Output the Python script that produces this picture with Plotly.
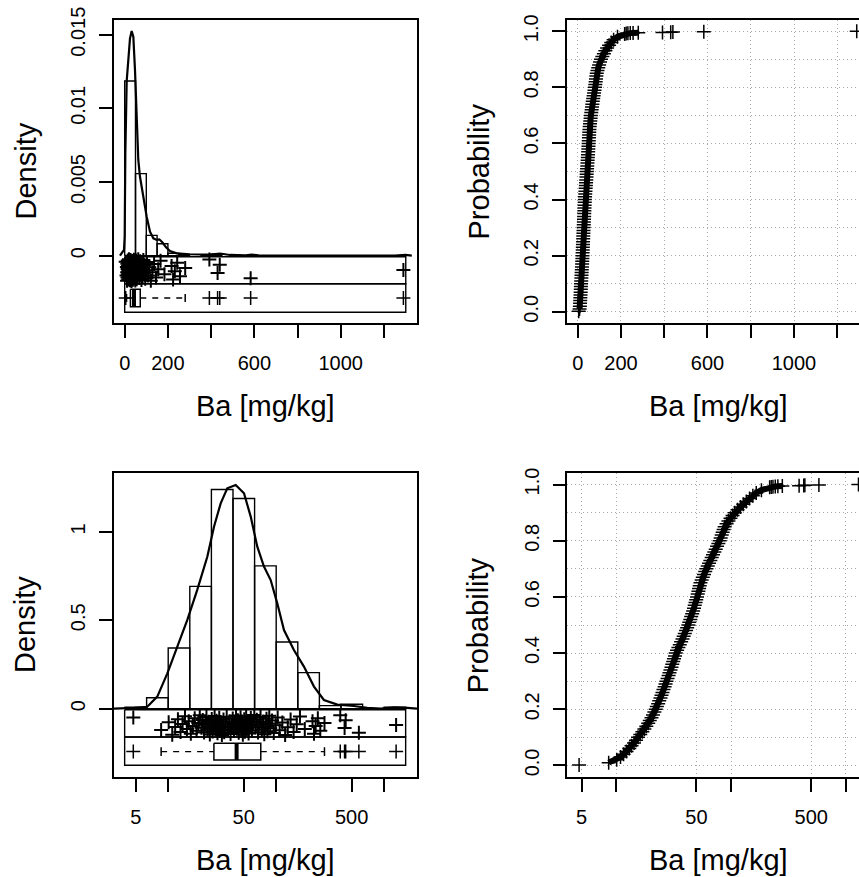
import plotly.graph_objects as go

W, H = 859, 877
FONT = "Liberation Sans, Arial, Helvetica, sans-serif"

# ---------------- data ----------------
# ECDF: cumulative probability and Ba value [mg/kg] (sorted sample quantiles)
ecdf_prob = [0.0017, 0.01, 0.02, 0.03, 0.04, 0.05, 0.06, 0.07, 0.08, 0.09,
             0.10, 0.11, 0.12, 0.13, 0.14, 0.15, 0.16, 0.17, 0.18, 0.19,
             0.20, 0.21, 0.22, 0.23, 0.24, 0.25, 0.26, 0.27, 0.28, 0.29,
             0.30, 0.31, 0.32, 0.33, 0.34, 0.35, 0.36, 0.37, 0.38, 0.39,
             0.40, 0.41, 0.42, 0.43, 0.44, 0.45, 0.46, 0.47, 0.48, 0.49,
             0.50, 0.51, 0.52, 0.53, 0.54, 0.55, 0.56, 0.57, 0.58, 0.59,
             0.60, 0.61, 0.62, 0.63, 0.64, 0.65, 0.66, 0.67, 0.68, 0.69,
             0.70, 0.71, 0.72, 0.73, 0.74, 0.75, 0.76, 0.77, 0.78, 0.79,
             0.80, 0.81, 0.82, 0.83, 0.84, 0.85, 0.86, 0.87, 0.88, 0.89,
             0.90, 0.91, 0.92, 0.93, 0.94, 0.95, 0.96, 0.97, 0.98, 0.99,
             0.9916, 0.9925, 0.9933, 0.9941, 0.995, 0.9958, 0.9966, 0.9975, 0.9983, 1.0]
ba_values = [4.75, 8.6, 10.1, 10.9, 11.6, 12.3, 13.0, 13.6, 14.3, 14.9,
             15.5, 16.2, 16.9, 17.6, 18.3, 19.0, 19.6, 20.3, 20.9, 21.5,
             22.1, 22.6, 23.2, 23.7, 24.3, 24.8, 25.3, 25.8, 26.4, 26.9,
             27.4, 28.0, 28.6, 29.1, 29.7, 30.3, 30.8, 31.4, 31.9, 32.5,
             33.0, 33.9, 34.8, 35.8, 36.8, 37.8, 38.7, 39.6, 40.6, 41.5,
             42.5, 43.3, 44.2, 45.0, 45.9, 46.8, 47.6, 48.3, 49.1, 49.8,
             50.6, 51.3, 52.0, 52.7, 53.4, 54.2, 55.5, 56.8, 58.2, 59.6,
             61.1, 62.7, 64.4, 66.1, 67.9, 69.7, 71.6, 73.6, 75.6, 77.6,
             79.7, 81.3, 83.0, 84.6, 86.3, 88.1, 91.5, 95.0, 99.0, 103.2,
             107.6, 114, 121, 128, 136, 145, 155, 166, 184, 217,
             224, 232, 243, 256, 280, 392, 430, 440, 583, 1290]

# Boxplot statistics [mg/kg]
box_whisker_low = 8.6
box_q1 = 26.5
box_median = 43.0
box_q3 = 72.0
box_whisker_high = 280.0

# Histogram, linear scale (bin width 50 mg/kg)
lin_bin_left = [0, 50, 100, 150, 200, 250, 350, 400, 550, 1250]
lin_bin_density = [0.01186, 0.00557, 0.00138, 0.00081, 0.00017, 0.00007,
                   0.00003, 0.00010, 0.00003, 0.00003]
lin_bin_width = 50

# Histogram, log scale (edges in log10 units, density per log10 unit)
log_bin_edges = [0.6, 0.8, 1.0, 1.2, 1.4, 1.6, 1.8, 2.0, 2.2, 2.4, 2.6, 2.8, 3.0, 3.2]
log_bin_density = [0.0084, 0.062, 0.343, 0.692, 1.240, 1.189, 0.808, 0.377,
                   0.204, 0.017, 0.025, 0.0, 0.0084]

# Kernel density, linear scale
lin_dens_x = [-22, -3.2, 0, 3, 9.3, 18.5, 24.5, 32.3, 40, 47.7, 55.4, 63, 70.8,
              86, 101.8, 117.2, 132.7, 148, 160.5, 176, 191.4, 209.7, 240.5,
              302, 395, 441, 487, 560, 588, 620, 800, 1000, 1250, 1300, 1329]
lin_dens_y = [0, 0.00039, 0.0013, 0.00695, 0.01186, 0.01374, 0.01475, 0.01525,
              0.01487, 0.0126, 0.0092, 0.0065, 0.00536, 0.0040, 0.00265, 0.00163,
              0.00118, 0.00107, 0.00111, 0.00088, 0.00057, 0.00032, 0.00016,
              0.0001, 0.00008, 0.00015, 0.00005, 0.00003, 0.00008, 0.00002,
              0.0, 0.0, 0.00001, 0.00005, 0.0]

# Kernel density of log10(Ba)
log_dens_x = [0.498, 0.683, 0.806, 0.899, 0.992, 1.084, 1.177, 1.269, 1.362,
              1.424, 1.486, 1.547, 1.625, 1.702, 1.764, 1.825, 1.887, 1.949,
              2.010, 2.072, 2.164, 2.257, 2.350, 2.442, 2.566, 2.720, 2.843,
              2.967, 3.091, 3.214, 3.304]
log_dens_y = [0.0, 0.004, 0.011, 0.068, 0.200, 0.351, 0.502, 0.672, 0.860,
              1.030, 1.162, 1.247, 1.266, 1.219, 1.087, 0.917, 0.804, 0.728,
              0.596, 0.445, 0.332, 0.238, 0.125, 0.049, 0.023, 0.015, 0.004,
              0.0, 0.0075, 0.004, 0.0]

lin_ticks = [0, 200, 400, 600, 800, 1000, 1200]
lin_ticktext = ["0", "200", "", "600", "", "1000", ""]
log_ticks = [5, 10, 50, 100, 500, 1000]
log_ticktext = ["5", "", "50", "", "500", ""]

XLAB = "Ba [mg/kg]"

# ---------------- layout geometry (pixels) ----------------
def fx(px):
    return px / W

def fy(py):
    return 1 - py / H

PANELS = {
    "TL": dict(x0=114, x1=417, y0=20, y1=323),
    "TR": dict(x0=567, x1=859, y0=20, y1=323),
    "BL": dict(x0=114, x1=417, y0=473.3, y1=776.7),
    "BR": dict(x0=567.3, x1=859, y0=473.3, y1=776.7),
}

fig = go.Figure()
BLACK = "black"
PLUS = dict(symbol="cross-thin", size=10, line=dict(width=1.5, color=BLACK), color=BLACK)
PLUS_J = dict(symbol="cross-thin", size=10, line=dict(width=2.0, color=BLACK), color=BLACK)


def rect_path(xs0, xs1, ys0, ys1):
    X, Y = [], []
    for a, b, c, d in zip(xs0, xs1, ys0, ys1):
        X += [a, b, b, a, a, None]
        Y += [c, c, d, d, c, None]
    return X, Y


def add_line(x, y, xa, ya, width=1.5, dash=None):
    fig.add_trace(go.Scatter(x=x, y=y, mode="lines", xaxis=xa, yaxis=ya,
                             line=dict(color=BLACK, width=width, dash=dash),
                             hoverinfo="skip", showlegend=False))


def jitter_frac(n):
    return [((i * 0.6180339887) + 0.13) % 1.0 for i in range(n)]


def add_eda(xa, ya, strip_x, strip_y, jit_y, box_y, cap_h):
    # strips (two rectangles)
    X, Y = rect_path([strip_x[0]] * 2, [strip_x[1]] * 2,
                     [strip_y[0], strip_y[1]], [strip_y[1], strip_y[2]])
    add_line(X, Y, xa, ya, width=1.4)
    # jittered points
    fr = jitter_frac(len(ba_values))
    jy = [jit_y[0] + f * (jit_y[1] - jit_y[0]) for f in fr]
    fig.add_trace(go.Scatter(x=ba_values, y=jy, mode="markers", xaxis=xa, yaxis=ya,
                             marker=PLUS_J, hoverinfo="skip", showlegend=False))
    # boxplot
    yc = (box_y[0] + box_y[1]) / 2
    X, Y = rect_path([box_q1], [box_q3], [box_y[0]], [box_y[1]])
    add_line(X, Y, xa, ya, width=1.5)
    add_line([box_median, box_median], [box_y[0], box_y[1]], xa, ya, width=4)
    add_line([box_whisker_low, box_q1, None, box_q3, box_whisker_high],
             [yc, yc, None, yc, yc], xa, ya, width=1.4, dash="6px,6px")
    add_line([box_whisker_low, box_whisker_low, None, box_whisker_high, box_whisker_high],
             [yc - cap_h, yc + cap_h, None, yc - cap_h, yc + cap_h], xa, ya, width=1.5)
    outl = [v for v in ba_values if v < box_whisker_low or v > box_whisker_high]
    fig.add_trace(go.Scatter(x=outl, y=[yc] * len(outl), mode="markers", xaxis=xa, yaxis=ya,
                             marker=PLUS, hoverinfo="skip", showlegend=False))


def add_ecdf(xa, ya):
    # dense band formed by the overlapping "+" symbols
    fig.add_trace(go.Scatter(x=ba_values[1:-5], y=ecdf_prob[1:-5], mode="lines",
                             xaxis=xa, yaxis=ya, line=dict(color=BLACK, width=6),
                             hoverinfo="skip", showlegend=False))
    fig.add_trace(go.Scatter(x=ba_values, y=ecdf_prob, mode="markers", xaxis=xa, yaxis=ya,
                             marker=PLUS, hoverinfo="skip", showlegend=False))


# ---------- Top-left: histogram + density + strips (linear) ----------
X, Y = rect_path(lin_bin_left, [b + lin_bin_width for b in lin_bin_left],
                 [0] * len(lin_bin_left), lin_bin_density)
add_line(X, Y, "x", "y", width=1.4)
add_line(lin_dens_x, lin_dens_y, "x", "y", width=2.2)
add_eda("x", "y", strip_x=[0, 1301], strip_y=[-0.00007, -0.0019, -0.00384],
        jit_y=[-0.00022, -0.00172], box_y=[-0.00228, -0.00346], cap_h=0.00027)

# ---------- Top-right: ECDF (linear) ----------
add_ecdf("x2", "y2")

# ---------- Bottom-left: histogram + density + strips (log) ----------
lo = [10 ** e for e in log_bin_edges[:-1]]
hi = [10 ** e for e in log_bin_edges[1:]]
X, Y = rect_path(lo, hi, [0] * len(lo), log_bin_density)
add_line(X, Y, "x3", "y3", width=1.4)
add_line([10 ** v for v in log_dens_x], log_dens_y, "x3", "y3", width=2.2)
add_eda("x3", "y3", strip_x=[3.95, 1581], strip_y=[-0.0057, -0.160, -0.320],
        jit_y=[-0.035, -0.150], box_y=[-0.196, -0.290], cap_h=0.025)

# ---------- Bottom-right: ECDF (log) ----------
add_ecdf("x4", "y4")

# ---------------- axes ----------------
tickfont = dict(family=FONT, size=20, color=BLACK)
common = dict(showline=True, linecolor=BLACK, linewidth=1.6, ticks="outside",
              ticklen=13, tickwidth=1.6, tickcolor=BLACK, zeroline=False,
              tickfont=tickfont, showgrid=False, automargin=False)
GRID = dict(showgrid=True, gridcolor="#a8a8a8", gridwidth=1, griddash="1px,3px")
MINOR = dict(dtick=0.1, tick0=0, showgrid=True, gridcolor="#a8a8a8", gridwidth=1,
             griddash="1px,3px", ticks="")


def dom(p):
    return [fx(p["x0"]), fx(p["x1"])], [fy(p["y1"]), fy(p["y0"])]


d = {k: dom(v) for k, v in PANELS.items()}

fig.update_layout(
    template="none",
    xaxis=dict(common, domain=d["TL"][0], anchor="y", range=[-49.5, 1353],
               tickvals=lin_ticks, ticktext=lin_ticktext, mirror=True, ticklabelstandoff=8),
    yaxis=dict(common, domain=d["TL"][1], anchor="x", range=[-0.004568, 0.016],
               tickvals=[0, 0.005, 0.01, 0.015], ticktext=["0", "0.005", "0.01", "0.015"],
               tickangle=-90, mirror=True, ticklabelstandoff=6),
    xaxis2=dict(common, **GRID, domain=d["TR"][0], anchor="y2", range=[-49.5, 1300.5],
                tickvals=lin_ticks, ticktext=lin_ticktext, mirror=True, ticklabelstandoff=8),
    yaxis2=dict(common, **GRID, domain=d["TR"][1], anchor="x2", range=[-0.04, 1.04],
                tickvals=[0, 0.2, 0.4, 0.6, 0.8, 1.0],
                ticktext=["0.0", "0.2", "0.4", "0.6", "0.8", "1.0"],
                minor=MINOR, tickangle=-90, mirror=False, ticklabelstandoff=6),
    xaxis3=dict(common, domain=d["BL"][0], anchor="y3", type="log", range=[0.498, 3.304],
                tickvals=log_ticks, ticktext=log_ticktext, mirror=True, ticklabelstandoff=8),
    yaxis3=dict(common, domain=d["BL"][1], anchor="x3", range=[-0.385, 1.332],
                tickvals=[0, 0.5, 1], ticktext=["0", "0.5", "1"],
                tickangle=-90, mirror=True, ticklabelstandoff=6),
    xaxis4=dict(common, **GRID, domain=d["BR"][0], anchor="y4", type="log", range=[0.574, 3.115],
                tickvals=log_ticks, ticktext=log_ticktext, mirror=True, ticklabelstandoff=8),
    yaxis4=dict(common, **GRID, domain=d["BR"][1], anchor="x4", range=[-0.04, 1.04],
                tickvals=[0, 0.2, 0.4, 0.6, 0.8, 1.0],
                ticktext=["0.0", "0.2", "0.4", "0.6", "0.8", "1.0"],
                minor=MINOR, tickangle=-90, mirror=False, ticklabelstandoff=6),
)

# ---------------- titles as annotations ----------------
titlefont = dict(family=FONT, size=29, color=BLACK)
ann = []
for key, ylab in [("TL", "Density"), ("TR", "Probability"), ("BL", "Density"), ("BR", "Probability")]:
    p = PANELS[key]
    full_x1 = 870 if key in ("TR", "BR") else p["x1"]
    cx = (p["x0"] + full_x1) / 2
    # x title: bottom of its text box sits 100 px below the panel's bottom edge
    bottom_px = min(p["y1"] + 100.3, H)
    ann.append(dict(text=XLAB, x=fx(cx), y=fy(bottom_px), xref="paper", yref="paper",
                    xanchor="center", yanchor="bottom", borderpad=0, showarrow=False,
                    font=titlefont))
    cy = (p["y0"] + p["y1"]) / 2
    ann.append(dict(text=ylab, x=fx(p["x0"] - 89), y=fy(cy), xref="paper", yref="paper",
                    xanchor="center", yanchor="middle", showarrow=False, font=titlefont,
                    textangle=-90))
fig.update_layout(annotations=ann)

fig.update_layout(width=W, height=H, margin=dict(l=0, r=0, t=0, b=0, pad=0),
                  paper_bgcolor="white", plot_bgcolor="white", showlegend=False,
                  font=dict(family=FONT, color=BLACK))

# remove the browser's default 8px page margin so the figure fills the window exactly
fig.write_html("out.html", config={"displayModeBar": False},
               post_script="document.body.style.margin='0';document.body.style.overflow='hidden';")
